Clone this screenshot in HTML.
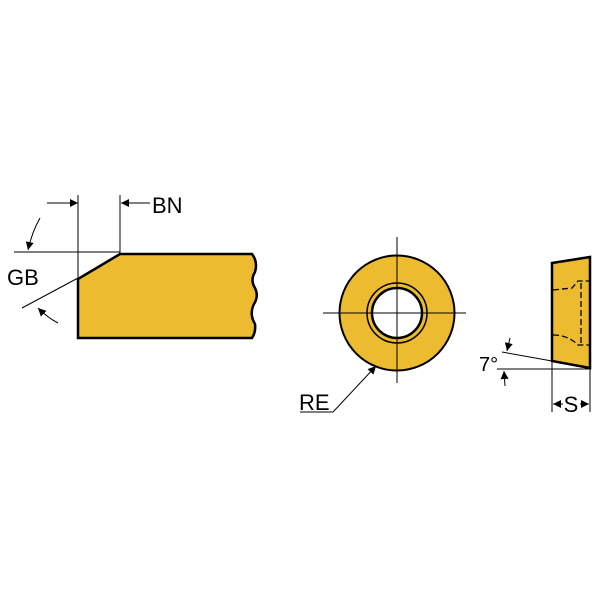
<!DOCTYPE html>
<html><head><style>body{margin:0;background:#fff}svg{display:block}</style></head><body>
<svg width="600" height="600" viewBox="0 0 600 600" xmlns="http://www.w3.org/2000/svg" font-family="Liberation Sans, sans-serif">
<defs>
<marker id="a" viewBox="0 0 10 10" refX="10" refY="5" markerWidth="11" markerHeight="8" orient="auto-start-reverse" markerUnits="userSpaceOnUse"><path d="M0,0 L10,5 L0,10 z" fill="#000"/></marker>
</defs>
<path d="M120,254 L252,254 Q258,262 255,272 Q250,280 255,288 Q259,296 254,304 Q249,314 255,324 Q256,332 252,338 L78,338 L78,279 Z" fill="#ecbb2f" stroke="#000" stroke-width="2.5"/>
<g stroke="#000" stroke-width="1" fill="none">
<line x1="78" y1="195" x2="78" y2="279"/>
<line x1="120" y1="195" x2="120" y2="254"/>
<line x1="47" y1="203" x2="78" y2="203" marker-end="url(#a)"/>
<line x1="150" y1="203" x2="121" y2="203" marker-end="url(#a)"/>
<line x1="14" y1="252" x2="120" y2="252"/>
<line x1="78" y1="278" x2="22" y2="308"/>
<path d="M40,218 Q32,232 28,250" marker-end="url(#a)"/>
<path d="M58,323 Q48,318 38,308" marker-end="url(#a)"/>
</g>
<text x="152" y="213" font-size="22">BN</text>
<text x="7" y="285" font-size="22">GB</text>
<circle cx="397" cy="313" r="57.5" fill="#ecbb2f" stroke="#000" stroke-width="2"/>
<circle cx="397" cy="313" r="30" fill="none" stroke="#000" stroke-width="1.5"/>
<circle cx="397" cy="313" r="25" fill="#fff" stroke="#000" stroke-width="2.5"/>
<g stroke="#000" stroke-width="1" fill="none">
<line x1="323" y1="313" x2="466" y2="313"/>
<line x1="397" y1="237" x2="397" y2="383"/>
<line x1="300" y1="412" x2="333" y2="412"/>
<line x1="333" y1="412" x2="376" y2="366" marker-end="url(#a)"/>
</g>
<text x="299" y="410" font-size="22">RE</text>
<path d="M552,263 L590,257 L590,368 L552,361 Z" fill="#ecbb2f" stroke="#000" stroke-width="2.5"/>
<g stroke="#000" stroke-width="1.3" fill="none" stroke-dasharray="6,3">
<path d="M553,290 L572,288 L578,281 L590,281"/>
<path d="M553,335 Q568,335 578,345 L590,345"/>
<line x1="581" y1="283" x2="581" y2="345"/>
</g>
<g stroke="#000" stroke-width="1" fill="none">
<line x1="502" y1="352" x2="552" y2="361"/>
<line x1="497" y1="369" x2="590" y2="369"/>
<line x1="510" y1="338" x2="507" y2="351" marker-end="url(#a)"/>
<line x1="505" y1="386" x2="504" y2="371" marker-end="url(#a)"/>
<line x1="552" y1="362" x2="552" y2="412"/>
<line x1="590" y1="369" x2="590" y2="412"/>
<line x1="553" y1="404" x2="563" y2="404" marker-start="url(#a)"/>
<line x1="580" y1="404" x2="589" y2="404" marker-end="url(#a)"/>
</g>
<text x="479" y="371" font-size="20">7°</text>
<text x="571" y="412" font-size="22" text-anchor="middle">S</text>
</svg>
</body></html>
